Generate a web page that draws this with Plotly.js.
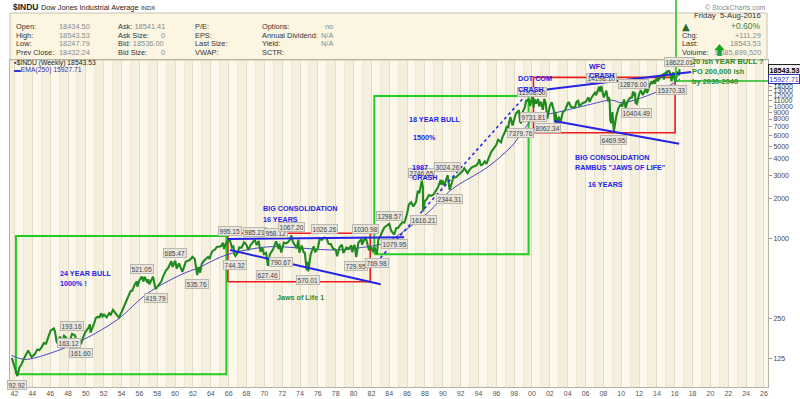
<!DOCTYPE html>
<html><head><meta charset="utf-8">
<script src="https://cdn.plot.ly/plotly-3.0.1.min.js"></script>
<style>html,body{margin:0;padding:0;background:#fff;}#chart{width:800px;height:399px;}</style>
</head><body><div id="chart"></div>
<script>
// ---------- DATA ----------
const priceDates = [
"1941-09-15","1941-12-15","1942-02-15","1942-04-28","1942-07-15","1942-10-15",
"1943-01-15","1943-04-15","1943-07-15","1943-11-30","1944-04-15","1944-07-15","1944-10-15",
"1945-01-15","1945-04-15","1945-07-15","1945-10-15","1946-01-15","1946-05-29","1946-07-15","1946-09-15","1946-10-09",
"1947-02-10","1947-05-17","1947-07-24","1947-10-15","1948-02-11","1948-06-15","1948-10-15","1948-11-30",
"1949-02-15","1949-06-13","1949-09-15","1949-12-15","1950-04-15","1950-06-12","1950-07-13","1950-10-15","1950-12-15",
"1951-02-15","1951-04-15","1951-07-15","1951-09-15","1951-11-15","1952-01-15","1952-05-01","1952-08-15","1952-10-15","1952-12-31",
"1953-01-15","1953-06-15","1953-09-14","1953-12-31","1954-03-15","1954-06-15","1954-09-15","1954-12-31",
"1955-03-15","1955-06-15","1955-09-15","1955-10-11","1955-12-31","1956-03-15","1956-04-09","1956-06-15","1956-08-02","1956-11-29","1956-12-31",
"1957-02-12","1957-07-12","1957-10-22","1957-12-31","1958-03-15","1958-06-15","1958-09-15","1958-12-31",
"1959-03-15","1959-06-15","1959-08-03","1959-09-22","1960-01-05","1960-03-08","1960-06-09","1960-10-25","1960-12-31",
"1961-03-15","1961-06-15","1961-09-15","1961-12-13","1962-03-15","1962-06-26","1962-08-22","1962-10-23","1962-12-31",
"1963-03-15","1963-06-15","1963-09-15","1963-11-22","1963-12-31","1964-03-15","1964-06-15","1964-09-15","1964-12-31",
"1965-03-15","1965-05-14","1965-06-28","1965-09-15","1965-12-31","1966-02-09","1966-05-17","1966-07-15","1966-08-29","1966-10-07","1966-12-31",
"1967-03-15","1967-06-15","1967-09-25","1967-12-31","1968-03-21","1968-06-15","1968-09-15","1968-12-03",
"1969-02-25","1969-05-14","1969-07-29","1969-10-15","1969-12-17","1970-03-15","1970-05-26","1970-08-15","1970-12-31",
"1971-04-28","1971-08-09","1971-09-08","1971-11-23","1972-03-15","1972-06-15","1972-09-15","1972-12-31",
"1973-01-11","1973-03-15","1973-06-15","1973-08-22","1973-10-26","1973-12-05","1974-03-13","1974-05-28","1974-07-15","1974-09-13","1974-10-04","1974-11-08","1974-12-06",
"1975-03-15","1975-07-15","1975-09-16","1975-12-31","1976-03-24","1976-06-15","1976-09-21","1976-12-31",
"1977-03-15","1977-06-15","1977-09-15","1977-12-31","1978-02-28","1978-06-06","1978-09-11","1978-11-14",
"1979-03-15","1979-06-15","1979-10-05","1979-11-07","1980-02-13","1980-04-21","1980-07-15","1980-11-20","1980-12-11",
"1981-04-27","1981-06-15","1981-09-25","1981-12-15","1982-03-08","1982-05-07","1982-08-12","1982-10-15","1982-12-31",
"1983-03-15","1983-06-15","1983-11-29","1984-01-06","1984-03-15","1984-07-24","1984-10-15","1984-12-31",
"1985-03-15","1985-06-15","1985-09-15","1985-12-31","1986-03-15","1986-06-15","1986-09-12","1986-12-31",
"1987-03-15","1987-05-20","1987-08-25","1987-10-09","1987-10-20","1987-12-04","1987-12-31",
"1988-03-15","1988-06-15","1988-09-15","1988-12-31","1989-03-15","1989-06-15","1989-10-09","1989-10-13","1989-12-31",
"1990-01-30","1990-04-15","1990-07-17","1990-10-11","1990-12-31","1991-03-15","1991-06-15","1991-09-15","1991-12-31",
"1992-03-15","1992-06-01","1992-10-09","1992-12-31","1993-03-15","1993-06-15","1993-09-15","1993-12-31",
"1994-01-31","1994-04-04","1994-06-15","1994-09-15","1994-11-23","1994-12-31","1995-03-15","1995-06-15","1995-09-15","1995-12-31",
"1996-03-15","1996-07-16","1996-09-15","1996-12-31","1997-03-11","1997-04-11","1997-06-15","1997-08-06","1997-10-27","1997-12-31",
"1998-03-15","1998-07-17","1998-08-31","1998-09-23","1998-10-08","1998-12-31","1999-03-15","1999-05-13","1999-06-15","1999-08-25","1999-10-15","1999-12-31",
"2000-01-14","2000-03-07","2000-04-15","2000-06-15","2000-09-06","2000-10-18","2000-12-31",
"2001-03-22","2001-05-21","2001-07-15","2001-09-21","2001-12-31","2002-03-19","2002-06-15","2002-07-24","2002-08-22","2002-10-10","2002-12-31",
"2003-03-11","2003-06-15","2003-09-15","2003-12-31","2004-02-11","2004-05-17","2004-10-25","2004-12-31",
"2005-03-04","2005-04-20","2005-09-15","2005-12-31","2006-05-10","2006-06-13","2006-09-15","2006-12-31",
"2007-02-20","2007-03-05","2007-07-19","2007-08-16","2007-10-11","2007-11-26","2008-01-22","2008-05-02","2008-07-15","2008-08-15","2008-09-15","2008-10-10","2008-11-20",
"2009-01-06","2009-03-06","2009-06-15","2009-09-15","2009-12-31","2010-02-08","2010-04-26","2010-07-02","2010-09-15","2010-12-31",
"2011-03-16","2011-05-02","2011-06-15","2011-07-21","2011-08-09","2011-10-04","2011-12-31",
"2012-03-15","2012-06-04","2012-10-05","2012-11-15","2012-12-31","2013-03-15","2013-05-28","2013-06-24","2013-09-18","2013-10-09","2013-12-31",
"2014-02-03","2014-06-15","2014-09-19","2014-10-15","2014-12-26","2015-01-30","2015-03-02","2015-05-19","2015-07-07","2015-08-24","2015-11-03",
"2016-01-20","2016-02-11","2016-04-20","2016-06-27","2016-07-20","2016-08-05"];
const priceValues = [
127,111,106,92.92,107,114,
125,135,145,129,136,147,146,
153,165,163,186,204,212,201,172,164,
184,166,187,181,163.12,193.16,188,171,
173,161.60,182,200,214,228,197,225,235,
255,259,257,276,261,270,257,276,269,292,
293,268,256,281,303,334,361,404,
409,451,480,438,488,511,521.05,478,520,467,499,
455,521,419.79,436,446,478,532,584,
602,644,679,616,685.47,599,656,566,616,
676,684,701,734,706,535.76,616,558,652,
683,707,732,711,763,813,831,875,874,
889,939,840,931,969,995.15,864,880,767,744.32,785,
865,860,943,905,825,898,935,985.21,
899,968,801,860,770,785,627.46,765,839,
958.12,840,920,790.67,940,929,953,1020,
1067.20,951,891,851,987,788,891,795,787,627,584,674,570.01,
768,881,794,852,1009,985,1026.26,1004,
919,916,847,831,742,866,907,785,
862,841,897,796,903,729.95,935,1000,908,
1030.98,977,824,880,795,869,769.98,991,1046,
1130,1222,1287,1298.57,1160,1079.95,1207,1212,
1267,1336,1328,1547,1819,1893,1758,1896,
2304,2215,2746.65,2482,1616.21,1767,1939,
1988,2142,2113,2169,2293,2440,2791,2569,2753,
2543,2657,3024.26,2344.31,2634,2914,2907,3017,3169,
3236,3414,3136,3301,3435,3516,3555,3754,
3978,3593,3625,3843,3674,3834,4158,4556,4789,5117,
5587,5346,5882,6448,7085,6391,7673,8259,7161,7908,
8800,9337,7539,8154,7379.76,9181,9786,11108,10971,11326,10019,11497,
11908.50,9731.81,11287,10448,11310,9975,10788,
9389,11337,10522,8062.34,10022,10673,9243,7532,9053,7197,8342,
7524,8985,9275,10454,10737,9852,9750,10783,
10940,10012,10569,10718,11642,10706,11679,12463,
12786,12050,14000,12845,14198.10,12743,11634,13058,10827,11659,10917,7882,7449,
9034,6469.95,8447,9712,10428,9908,11205,9686,10788,11578,
11613,12876.00,11898,12724,10604,10404.49,12218,
13212,12101,13610,12542,13104,14539,15409,14659,15709,14719,16577,
15372,16827,17350,15855,18103,17165,18288,18351,17465,15370.33,17978,
15450,15503,18168,17063,18622.01,18543.53];

const emaDates = ["1941-09-01","1943-03-01","1946-01-01","1949-09-01","1953-07-01","1956-12-01","1960-08-01","1962-11-01",
"1965-02-01","1967-05-01","1970-09-01","1974-06-01","1978-03-01","1981-08-01","1982-09-01","1984-03-01","1988-04-01",
"1990-12-01","1995-02-01","1997-09-01","2000-04-01","2002-12-01","2006-04-01","2008-12-01","2010-01-01","2011-07-01","2014-07-01","2016-08-05"];
const emaValues = [133,124,138,174,246,390,536,616,730,810,875,851,826,875,900,983,1560,2338,3500,4945,8090,9000,10190,11100,10600,11100,13250,15927.71];

// labelled highs (+1) / lows (-1)
const labelDates = ["1942-04-28","1948-02-11","1948-06-15","1949-06-13","1956-04-09","1957-10-22","1960-01-05","1962-06-26",
"1966-02-09","1966-10-07","1968-12-03","1971-04-28","1970-05-26","1971-11-23","1973-01-11","1974-12-06","1976-09-21","1980-04-21","1981-04-27","1982-08-12",
"1984-01-06","1984-07-24","1987-08-25","1987-10-20","1990-07-17","1990-10-11","1998-10-08","2000-01-14","2000-03-07","2001-09-21",
"2007-10-11","2009-03-06","2011-05-02","2011-10-04","2015-08-24","2016-07-20"];
const labelValues = [92.92,163.12,193.16,161.60,521.05,419.79,685.47,535.76,995.15,744.32,985.21,958.12,627.46,790.67,1067.20,570.01,1026.26,729.95,1030.98,769.98,
1298.57,1079.95,2746.65,1616.21,3024.26,2344.31,7379.76,11908.50,9731.81,8062.34,14198.10,6469.95,12876.00,10404.49,15370.33,18622.01];
const labelSides = [-1,0,1,-1,1,-1,1,-1,1,-1,1,1,-1,-1,1,-1,1,-1,1,-1,1,-1,1,-1,1,-1,-1,0.5,-1,-1,1,-1,1,-1,-1,1];

// boxes and trend lines [date, value]
const greenBox1 = {d:["1942-03-01","1965-10-01"], v:[96,1053]};
const redBox1   = {d:["1965-12-01","1981-11-15"], v:[477,1104]};
const greenBox2 = {d:["1982-05-01","1999-08-15"], v:[767,11920]};
const redBox2   = {d:["2000-03-01","2016-01-15"], v:[6310,16450]};
const jaws1Upper = {d:["1965-12-01","1985-09-01"], v:[1000,1030]};
const jaws1Lower = {d:["1966-03-01","1983-01-15"], v:[826,456]};
const bullDotted = {d:["1983-01-01","1999-12-01"], v:[720,13400]};
const jaws2Upper = {d:["1998-06-01","2017-11-01"], v:[12550,18060]};
const jaws2Lower = {d:["2002-07-01","2016-07-01"], v:[7727,5214]};

const yTickVals = [125,250,1000,2000,3000,4000,5000,6000,7000,8000,9000,10000,11000,12000,13000,14000,15000,16000,17000];
const xTickFirst = "1942-01-01";

// ---------- LAYOUT HELPERS ----------
const L=10,R=768,T=60,B=387, W=R-L, H=B-T;
const px=x=>(x-L)/W, py=y=>(B-y)/H;
const FONT="Liberation Sans, Arial, sans-serif";
const lg=Math.log10;

function boxTrace(b,color,width){
  return {x:[b.d[0],b.d[1],b.d[1],b.d[0],b.d[0]], y:[b.v[0],b.v[0],b.v[1],b.v[1],b.v[0]],
    mode:"lines", line:{color:color,width:width}, hoverinfo:"skip", showlegend:false};
}
function lineTrace(l,color,width,dash){
  return {x:l.d, y:l.v, mode:"lines", line:{color:color,width:width,dash:dash||"solid"}, hoverinfo:"skip", showlegend:false};
}

const traces = [
  boxTrace(greenBox1,"#22cc22",2),
  boxTrace(redBox1,"#ee1c1c",1.6),
  boxTrace(greenBox2,"#22cc22",2),
  boxTrace(redBox2,"#ee1c1c",1.6),
  {x:emaDates, y:emaValues, mode:"lines", line:{color:"#4646c8",width:1,shape:"spline",smoothing:0.9}, hoverinfo:"skip", showlegend:false},
  {x:priceDates, y:priceValues, mode:"lines", line:{color:"#1f8a1f",width:2.1}, hoverinfo:"skip", showlegend:false},
  lineTrace(jaws1Upper,"#2424e6",2),
  lineTrace(jaws1Lower,"#2424e6",2),
  lineTrace(bullDotted,"#2a2aee",1.6,"dot"),
  lineTrace(jaws2Upper,"#2424e6",2),
  lineTrace(jaws2Lower,"#2424e6",2)
];

const ann = [];
function pa(text,x,y,o){ ann.push(Object.assign({text:text,xref:"paper",yref:"paper",x:px(x),y:py(y),showarrow:false,xanchor:"left",yanchor:"middle",font:{family:FONT,size:8,color:"#333"}},o||{})); }

// title row
pa("<b>$INDU</b> <span style='font-size:7.4px'>Dow Jones Industrial Average</span> <span style='font-size:6px'>INDX</span>",11,7,{font:{family:FONT,size:8.5,color:"#222"}});
pa("© StockCharts.com",768,7,{xanchor:"right",font:{family:FONT,size:7,color:"#888"}});

// header table
const hl = {family:FONT,size:7.4,color:"#333"}, hv={family:FONT,size:7.4,color:"#8a8a8a"};
const rowsY=[26,35,44,53];
[["Open:","18434.50"],["High:","18543.53"],["Low:","18247.79"],["Prev Close:","18432.24"]].forEach((r,i)=>{
  pa(r[0],14,rowsY[i],{font:hl}); pa(r[1],92,rowsY[i],{xanchor:"right",font:hv});});
[["Ask: <span style='color:#8a8a8a'>18541.41</span>",""],["Ask Size:","0"],["Bid: <span style='color:#8a8a8a'>18536.00</span>",""],["Bid Size:","0"]].forEach((r,i)=>{
  pa(r[0],116,rowsY[i],{font:hl}); if(r[1]) pa(r[1],167,rowsY[i],{xanchor:"right",font:hv});});
["P/E:","EPS:","Last Size:","VWAP:"].forEach((t,i)=>pa(t,193,rowsY[i],{font:hl}));
[["Options:","no"],["Annual Dividend:","N/A"],["Yield:","N/A"],["SCTR:",""]].forEach((r,i)=>{
  pa(r[0],260,rowsY[i],{font:hl}); if(r[1]) pa(r[1],335,rowsY[i],{xanchor:"right",font:hv});});
pa("Friday  5-Aug-2016",763,15.5,{xanchor:"right",font:{family:FONT,size:7.8,color:"#333"}});
pa("+0.60%",763,26,{xanchor:"right",font:{family:FONT,size:8.5,color:"#3d7f3d"}});
pa("▲",680,26,{font:{family:"DejaVu Sans",size:10,color:"#2e6b2e"}});
[["Chg:","+111.29"],["Last:","18543.53"],["Volume:","1,685,899,520"]].forEach((r,i)=>{
  pa(r[0],680,rowsY[i+1],{font:hl}); pa(r[1],763,rowsY[i+1],{xanchor:"right",font:hv});});

// legend inside plot
pa("<span style='font-size:7px'>▪</span>$INDU (Weekly) 18543.53",12,63,{font:{family:FONT,size:6.8,color:"#222"}});
pa("<span style='color:#3333cc'>▬</span>EMA(250) 15927.71",12,70,{font:{family:FONT,size:6.8,color:"#3333aa"}});

// blue notes
const blue={family:FONT,size:7.2,color:"#2222ee"};
pa("<b>24 YEAR BULL</b>",58,273,{font:blue});
pa("<b>1000% !</b>",58,283,{font:blue});
pa("<b>BIG CONSOLIDATION</b>",261,208,{font:blue});
pa("<b>16 YEARS</b>",261,219,{font:blue});
pa("<b>Jaws of Life 1</b>",275,297,{font:{family:FONT,size:7.2,color:"#2b8a2b"}});
pa("<b>18 YEAR BULL</b>",407,119,{font:blue});
pa("<b>1500%</b>",411,137,{font:blue});

// price labels
labelDates.forEach((d,i)=>{
  const s=labelSides[i];
  ann.push({x:d,y:lg(labelValues[i]),xref:"x",yref:"y",text:labelValues[i].toFixed(2),showarrow:false,
    yshift:s>0?8*s:(s<0?-9:1),bgcolor:"#e8e5df",bordercolor:"#bcb7ad",borderwidth:1,borderpad:0.5,
    font:{family:FONT,size:6.6,color:"#444"}});
});
pa("<b>1987</b>",410,167,{font:blue});
pa("<b>CRASH</b>",410,177,{font:blue});
pa("<b>DOT COM</b>",516,78,{font:blue});
pa("<b>CRASH</b>",516,89,{font:blue});
pa("<b>WFC</b>",587,66,{font:blue});
pa("<b>CRASH</b>",587,76,{font:blue});
pa("<b>BIG CONSOLIDATION</b>",573,157,{font:blue});
pa("<b>RAMBUS \"JAWS OF LIFE\"</b>",573,167.5,{font:blue});
pa("<b>16 YEARS</b>",586,184,{font:blue});

// green projection text
const grn={family:FONT,size:7.4,color:"#2a8a2a"};
pa("<b>20 ish YEAR BULL ?</b>",690,61,{font:grn});
pa("<b>PO 200,000 ish</b>",690,71,{font:grn});
pa("<b>by 2030-2040</b>",690,81.5,{font:grn});

// right axis value boxes
ann.push({xref:"paper",yref:"y",x:1,y:lg(18543.53),xanchor:"left",text:"<b>18543.53</b>",showarrow:false,
  bgcolor:"#f0f0f0",bordercolor:"#222",borderwidth:1,borderpad:0.5,font:{family:FONT,size:7.2,color:"#000"}});
ann.push({xref:"paper",yref:"y",x:1,y:lg(15927.71),xanchor:"left",text:"15927.71",showarrow:false,
  bgcolor:"#ffffff",bordercolor:"#3333aa",borderwidth:1,borderpad:0.5,font:{family:FONT,size:7,color:"#3333aa"}});

// background bands (alternating years) and header box
const shapes=[];
for(let y=1941;y<=2026;y++){
  if(y%2===1) shapes.push({type:"rect",xref:"x",yref:"paper",x0:y+"-01-01",x1:(y+1)+"-01-01",y0:0,y1:1,fillcolor:"#f5efde",line:{width:0},layer:"below"});
}
shapes.push({type:"rect",xref:"paper",yref:"paper",x0:px(10),x1:px(767),y0:py(60),y1:py(13),fillcolor:"#fbf5e2",line:{color:"#c9c1aa",width:1},layer:"below"});
shapes.push({type:"path",xref:"paper",yref:"paper",path:`M ${px(676)} ${py(-3)} L ${px(676)} ${py(81)} L ${px(812)} ${py(81)}`,line:{color:"#22bb22",width:1.5}});
// small green up-arrow in header
shapes.push({type:"path",xref:"paper",yref:"paper",fillcolor:"#17a617",line:{width:0},
  path:`M ${px(714.5)} ${py(50)} L ${px(719.5)} ${py(44)} L ${px(724.5)} ${py(50)} L ${px(721.7)} ${py(50)} L ${px(721.7)} ${py(56)} L ${px(717.3)} ${py(56)} L ${px(717.3)} ${py(50)} Z`});

const layout = {
  width:800,height:399,margin:{l:L,r:800-R,t:T,b:399-B},
  paper_bgcolor:"#ffffff",plot_bgcolor:"#fcf8eb",showlegend:false,
  font:{family:FONT,size:7,color:"#444"},
  xaxis:{type:"date",range:["1941-07-01","2026-06-15"],tick0:xTickFirst,dtick:"M24",tickformat:"%y",
    ticks:"",tickfont:{size:7,color:"#555"},showgrid:true,gridcolor:"#e6ddc8",gridwidth:1,
    minor:{dtick:"M12",showgrid:true,gridcolor:"#eee6d3"},
    showline:true,mirror:true,linecolor:"#b8b0a0",zeroline:false,fixedrange:true},
  yaxis:{type:"log",side:"right",range:[lg(76.9),lg(22240)],tickvals:yTickVals,ticktext:yTickVals.map(String),
    ticks:"outside",ticklen:3,tickcolor:"#999",tickfont:{size:7,color:"#444"},showgrid:false,
    showline:true,mirror:true,linecolor:"#b8b0a0",zeroline:false,fixedrange:true},
  annotations:ann, shapes:shapes
};
Plotly.newPlot("chart",traces,layout,{staticPlot:true,displayModeBar:false});
</script></body></html>
